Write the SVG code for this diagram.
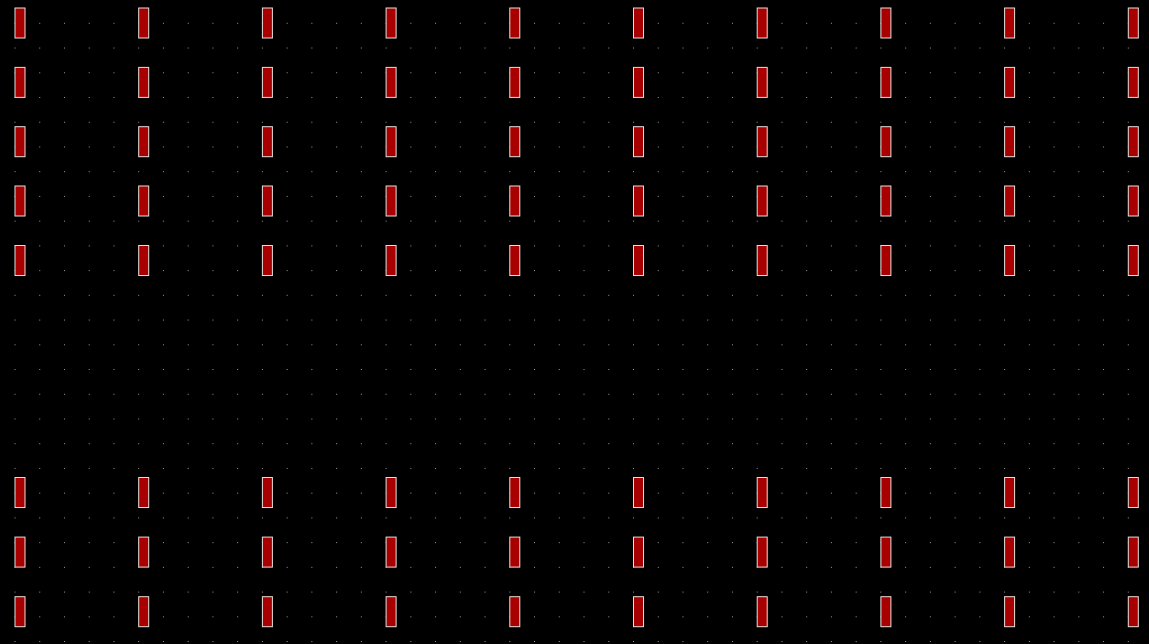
<svg xmlns="http://www.w3.org/2000/svg" width="1149" height="644" viewBox="0 0 1149 644">
<style>
.cell{fill:#a80000;stroke:#e6e0dc;stroke-width:1}
</style>
<defs>
<pattern id="dots" patternUnits="userSpaceOnUse" x="14.5" y="22.8" width="24.74" height="24.73">
<rect x="0" y="0" width="1" height="1" fill="#9a9a9a"/>
</pattern>
</defs>
<rect x="0" y="0" width="1149" height="644" fill="#000"/>
<rect x="0" y="0" width="1149" height="644" fill="url(#dots)"/>
<g id="connectors"></g>
<g id="r0">
<g id="n0_0"><rect class="cell" x="15" y="8" width="10" height="30"/></g>
<g id="n0_1"><rect class="cell" x="138.7" y="8" width="10" height="30"/></g>
<g id="n0_2"><rect class="cell" x="262.4" y="8" width="10" height="30"/></g>
<g id="n0_3"><rect class="cell" x="386.1" y="8" width="10" height="30"/></g>
<g id="n0_4"><rect class="cell" x="509.8" y="8" width="10" height="30"/></g>
<g id="n0_5"><rect class="cell" x="633.5" y="8" width="10" height="30"/></g>
<g id="n0_6"><rect class="cell" x="757.2" y="8" width="10" height="30"/></g>
<g id="n0_7"><rect class="cell" x="880.9" y="8" width="10" height="30"/></g>
<g id="n0_8"><rect class="cell" x="1004.6" y="8" width="10" height="30"/></g>
<g id="n0_9"><rect class="cell" x="1128.3" y="8" width="10" height="30"/></g>
</g>
<g id="r1">
<g id="n1_0"><rect class="cell" x="15" y="67.4" width="10" height="30"/></g>
<g id="n1_1"><rect class="cell" x="138.7" y="67.4" width="10" height="30"/></g>
<g id="n1_2"><rect class="cell" x="262.4" y="67.4" width="10" height="30"/></g>
<g id="n1_3"><rect class="cell" x="386.1" y="67.4" width="10" height="30"/></g>
<g id="n1_4"><rect class="cell" x="509.8" y="67.4" width="10" height="30"/></g>
<g id="n1_5"><rect class="cell" x="633.5" y="67.4" width="10" height="30"/></g>
<g id="n1_6"><rect class="cell" x="757.2" y="67.4" width="10" height="30"/></g>
<g id="n1_7"><rect class="cell" x="880.9" y="67.4" width="10" height="30"/></g>
<g id="n1_8"><rect class="cell" x="1004.6" y="67.4" width="10" height="30"/></g>
<g id="n1_9"><rect class="cell" x="1128.3" y="67.4" width="10" height="30"/></g>
</g>
<g id="r2">
<g id="n2_0"><rect class="cell" x="15" y="126.7" width="10" height="30"/></g>
<g id="n2_1"><rect class="cell" x="138.7" y="126.7" width="10" height="30"/></g>
<g id="n2_2"><rect class="cell" x="262.4" y="126.7" width="10" height="30"/></g>
<g id="n2_3"><rect class="cell" x="386.1" y="126.7" width="10" height="30"/></g>
<g id="n2_4"><rect class="cell" x="509.8" y="126.7" width="10" height="30"/></g>
<g id="n2_5"><rect class="cell" x="633.5" y="126.7" width="10" height="30"/></g>
<g id="n2_6"><rect class="cell" x="757.2" y="126.7" width="10" height="30"/></g>
<g id="n2_7"><rect class="cell" x="880.9" y="126.7" width="10" height="30"/></g>
<g id="n2_8"><rect class="cell" x="1004.6" y="126.7" width="10" height="30"/></g>
<g id="n2_9"><rect class="cell" x="1128.3" y="126.7" width="10" height="30"/></g>
</g>
<g id="r3">
<g id="n3_0"><rect class="cell" x="15" y="186" width="10" height="30"/></g>
<g id="n3_1"><rect class="cell" x="138.7" y="186" width="10" height="30"/></g>
<g id="n3_2"><rect class="cell" x="262.4" y="186" width="10" height="30"/></g>
<g id="n3_3"><rect class="cell" x="386.1" y="186" width="10" height="30"/></g>
<g id="n3_4"><rect class="cell" x="509.8" y="186" width="10" height="30"/></g>
<g id="n3_5"><rect class="cell" x="633.5" y="186" width="10" height="30"/></g>
<g id="n3_6"><rect class="cell" x="757.2" y="186" width="10" height="30"/></g>
<g id="n3_7"><rect class="cell" x="880.9" y="186" width="10" height="30"/></g>
<g id="n3_8"><rect class="cell" x="1004.6" y="186" width="10" height="30"/></g>
<g id="n3_9"><rect class="cell" x="1128.3" y="186" width="10" height="30"/></g>
</g>
<g id="r4">
<g id="n4_0"><rect class="cell" x="15" y="245.5" width="10" height="30"/></g>
<g id="n4_1"><rect class="cell" x="138.7" y="245.5" width="10" height="30"/></g>
<g id="n4_2"><rect class="cell" x="262.4" y="245.5" width="10" height="30"/></g>
<g id="n4_3"><rect class="cell" x="386.1" y="245.5" width="10" height="30"/></g>
<g id="n4_4"><rect class="cell" x="509.8" y="245.5" width="10" height="30"/></g>
<g id="n4_5"><rect class="cell" x="633.5" y="245.5" width="10" height="30"/></g>
<g id="n4_6"><rect class="cell" x="757.2" y="245.5" width="10" height="30"/></g>
<g id="n4_7"><rect class="cell" x="880.9" y="245.5" width="10" height="30"/></g>
<g id="n4_8"><rect class="cell" x="1004.6" y="245.5" width="10" height="30"/></g>
<g id="n4_9"><rect class="cell" x="1128.3" y="245.5" width="10" height="30"/></g>
</g>
<g id="r5">
<g id="n5_0"><rect class="cell" x="15" y="477.5" width="10" height="30"/></g>
<g id="n5_1"><rect class="cell" x="138.7" y="477.5" width="10" height="30"/></g>
<g id="n5_2"><rect class="cell" x="262.4" y="477.5" width="10" height="30"/></g>
<g id="n5_3"><rect class="cell" x="386.1" y="477.5" width="10" height="30"/></g>
<g id="n5_4"><rect class="cell" x="509.8" y="477.5" width="10" height="30"/></g>
<g id="n5_5"><rect class="cell" x="633.5" y="477.5" width="10" height="30"/></g>
<g id="n5_6"><rect class="cell" x="757.2" y="477.5" width="10" height="30"/></g>
<g id="n5_7"><rect class="cell" x="880.9" y="477.5" width="10" height="30"/></g>
<g id="n5_8"><rect class="cell" x="1004.6" y="477.5" width="10" height="30"/></g>
<g id="n5_9"><rect class="cell" x="1128.3" y="477.5" width="10" height="30"/></g>
</g>
<g id="r6">
<g id="n6_0"><rect class="cell" x="15" y="537.1" width="10" height="30"/></g>
<g id="n6_1"><rect class="cell" x="138.7" y="537.1" width="10" height="30"/></g>
<g id="n6_2"><rect class="cell" x="262.4" y="537.1" width="10" height="30"/></g>
<g id="n6_3"><rect class="cell" x="386.1" y="537.1" width="10" height="30"/></g>
<g id="n6_4"><rect class="cell" x="509.8" y="537.1" width="10" height="30"/></g>
<g id="n6_5"><rect class="cell" x="633.5" y="537.1" width="10" height="30"/></g>
<g id="n6_6"><rect class="cell" x="757.2" y="537.1" width="10" height="30"/></g>
<g id="n6_7"><rect class="cell" x="880.9" y="537.1" width="10" height="30"/></g>
<g id="n6_8"><rect class="cell" x="1004.6" y="537.1" width="10" height="30"/></g>
<g id="n6_9"><rect class="cell" x="1128.3" y="537.1" width="10" height="30"/></g>
</g>
<g id="r7">
<g id="n7_0"><rect class="cell" x="15" y="596.7" width="10" height="30"/></g>
<g id="n7_1"><rect class="cell" x="138.7" y="596.7" width="10" height="30"/></g>
<g id="n7_2"><rect class="cell" x="262.4" y="596.7" width="10" height="30"/></g>
<g id="n7_3"><rect class="cell" x="386.1" y="596.7" width="10" height="30"/></g>
<g id="n7_4"><rect class="cell" x="509.8" y="596.7" width="10" height="30"/></g>
<g id="n7_5"><rect class="cell" x="633.5" y="596.7" width="10" height="30"/></g>
<g id="n7_6"><rect class="cell" x="757.2" y="596.7" width="10" height="30"/></g>
<g id="n7_7"><rect class="cell" x="880.9" y="596.7" width="10" height="30"/></g>
<g id="n7_8"><rect class="cell" x="1004.6" y="596.7" width="10" height="30"/></g>
<g id="n7_9"><rect class="cell" x="1128.3" y="596.7" width="10" height="30"/></g>
</g>
</svg>
